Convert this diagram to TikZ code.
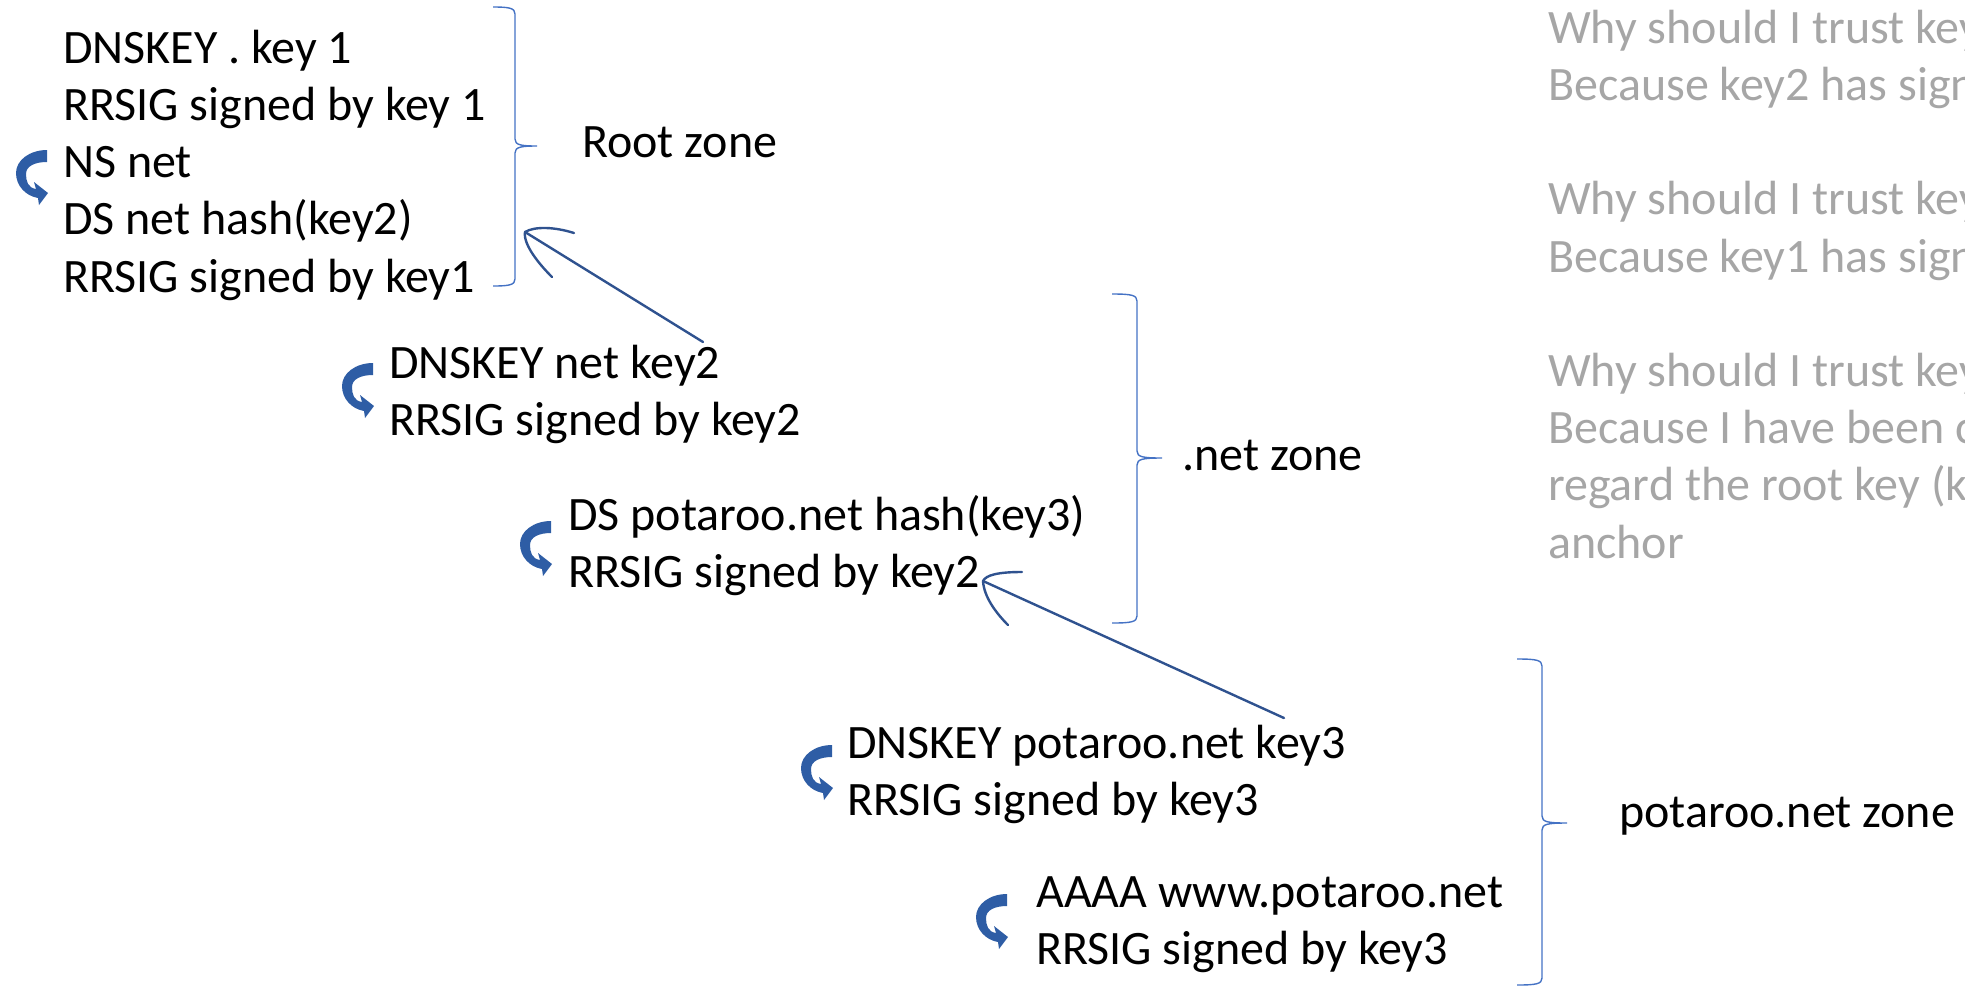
\documentclass[tikz,border=0pt]{standalone}
\usepackage{fontspec}
\setmainfont{Carlito}

\definecolor{bracecol}{HTML}{4472C4}
\definecolor{sigcol}{HTML}{2F528F}
\definecolor{curlcol}{HTML}{2E5DA5}
\definecolor{greytext}{HTML}{A6A6A6}

% right-hand curly brace: name of tip, x of ends, x of spine, top, middle, bottom
\newcommand{\zonebrace}[6]{%
  \draw[brace] (#2,#4) .. controls ({#3-6},#4) and (#3,{#4+1}) .. (#3,{#4+7})
    -- (#3,{#5-7}) .. controls (#3,{#5-1}) and ({#3+6},#5) .. ({2*#3-#2},#5)
    coordinate (#1)
    .. controls ({#3+6},#5) and (#3,{#5+1}) .. (#3,{#5+7})
    -- (#3,{#6-7}) .. controls (#3,{#6-1}) and ({#3-6},#6) .. (#2,#6);}

\begin{document}
\begin{tikzpicture}[
    x=1pt, y=-1pt,
    rec/.style={anchor=north west, inner sep=0pt, align=left,
                font=\fontsize{48}{57.2}\selectfont},
    zone/.style={anchor=base west, inner sep=0pt,
                 font=\fontsize{48}{57.2}\selectfont},
    brace/.style={draw=bracecol, line width=1.4pt},
    sig/.style={draw=sigcol, line width=2.4pt, line cap=round},
    curl/.pic={
        \fill[curlcol] (0,-1) .. controls (-17,-1) and (-31,9) .. (-31,22)
            .. controls (-31,35) and (-21,45) .. (-9,47)
            -- (-8,54) -- (1,42) -- (-13,31) -- (-11,38)
            .. controls (-19,37) and (-21,30) .. (-21,23)
            .. controls (-21,15) and (-12,11) .. (0,11) -- cycle;
    }
]
    \useasboundingbox (0,0) rectangle (1965,986);
    \clip (0,0) rectangle (1965,986);

    % record sets
    \node[rec] (root)    at (63,23)    {\strut DNSKEY . key 1\\ RRSIG signed by key 1\\ NS net\\ DS net hash(key2)\\ RRSIG signed by key1};
    \node[rec] (netkey)  at (389,338)  {\strut DNSKEY net key2\\ RRSIG signed by key2};
    \node[rec] (netds)   at (568,490)  {\strut DS potaroo.net hash(key3)\\ RRSIG signed by key2};
    \node[rec] (potkey)  at (847,718)  {\strut DNSKEY potaroo.net key3\\ RRSIG signed by key3};
    \node[rec] (potaaaa) at (1036,867) {\strut AAAA www.potaroo.net\\ RRSIG signed by key3};

    % signature curls
    \pic at (47,151)  {curl};
    \pic at (373,364) {curl};
    \pic at (551,522) {curl};
    \pic at (832,746) {curl};
    \pic at (1007,895) {curl};

    % zones
    \zonebrace{roottip}{493}{515}{7}{146}{286}
    \zonebrace{nettip}{1112}{1137}{294}{458}{623}
    \zonebrace{pottip}{1517}{1542}{659}{823}{985}

    \node[zone] (rootlbl) at (582,157) {Root zone};
    \node[zone] (netlbl)  at (1182,470) {.net zone};
    \node[zone] (potlbl)  at (1619,827) {potaroo.net zone};

    % chain of trust
    \coordinate (rootin) at (525,232);
    \coordinate (netout) at (703,342);
    \draw[sig] (netout) -- (rootin);
    \draw[sig] (rootin) .. controls (535,226) and (555,227) .. (574,233);
    \draw[sig] (rootin) .. controls (523,245) and (540,265) .. (552,277);

    \coordinate (netin) at (983,581);
    \coordinate (potout) at (1284,718);
    \draw[sig] (potout) -- (netin);
    \draw[sig] (netin) .. controls (986,575) and (998,572) .. (1022,572);
    \draw[sig] (netin) .. controls (984,597) and (996,613) .. (1008,625);

    % questions
    \node[rec, text=greytext] (why) at (1548,3) {\strut Why should I trust key3?\\
        Because key2 has signed it\\ ~\\
        Why should I trust key2?\\
        Because key1 has signed it\\ ~\\
        Why should I trust key1?\\
        Because I have been configured to\\
        regard the root key (key1) as my trust\\
        anchor};
\end{tikzpicture}
\end{document}
